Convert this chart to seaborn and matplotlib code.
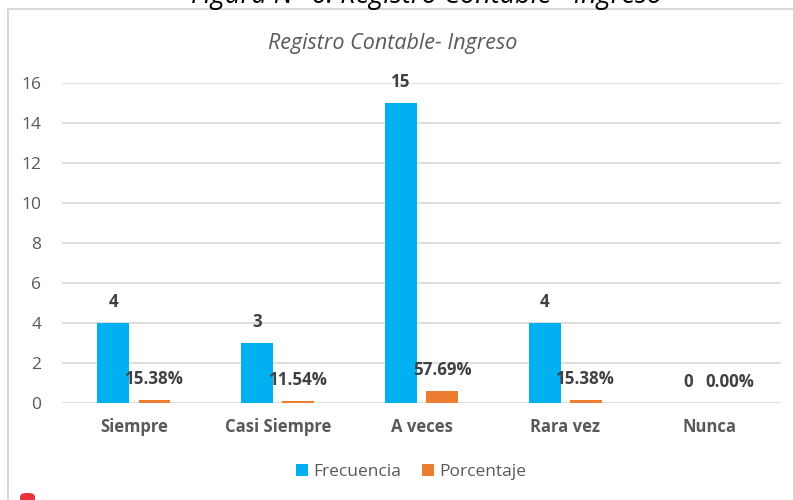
import matplotlib
matplotlib.use("Agg")
import matplotlib.pyplot as plt
from matplotlib.patches import Rectangle, FancyBboxPatch
import seaborn as sns
import pandas as pd

categories = ["Siempre", "Casi Siempre", "A veces", "Rara vez", "Nunca"]
frecuencia = [4, 3, 15, 4, 0]
porcentaje = [0.1538, 0.1154, 0.5769, 0.1538, 0.0]
series_names = ["Frecuencia", "Porcentaje"]
yticks = [0, 2, 4, 6, 8, 10, 12, 14, 16]

df = pd.DataFrame({
    "cat": categories * 2,
    "serie": [series_names[0]] * len(categories) + [series_names[1]] * len(categories),
    "val": frecuencia + porcentaje,
})

plt.rcParams["font.family"] = ["Open Sans", "DejaVu Sans"]
grey = "#595959"
dark = "#404040"
colors = ["#00B0F0", "#ED7D31"]

fig = plt.figure(figsize=(7.93, 5.00), dpi=100)
ax = fig.add_axes([62 / 793, 1 - 403 / 500, (781 - 62) / 793, (403 - 83) / 500])

sns.barplot(data=df, x="cat", y="val", hue="serie", order=categories,
            hue_order=series_names, palette=colors, width=0.572,
            saturation=1, ax=ax, errorbar=None)

bw = 0.222
for cont in ax.containers:
    for p in cont.patches:
        c = p.get_x() + p.get_width() / 2
        p.set_width(bw)
        p.set_x(c - bw / 2)
        p.set_edgecolor("none")

ax.set_ylim(0, 16)
ax.set_xlim(-0.5, len(categories) - 0.5)
ax.set_yticks(yticks)
ax.set_yticklabels([str(t) for t in yticks])
ax.yaxis.grid(True, color="#d9d9d9", lw=1.2)
ax.set_axisbelow(True)
for s in ax.spines.values():
    s.set_visible(False)
ax.tick_params(axis="both", length=0, colors=grey)
ax.tick_params(axis="y", labelsize=12.5, pad=15)
ax.tick_params(axis="x", labelsize=12, pad=11)
for lbl in ax.get_xticklabels():
    lbl.set_fontweight("bold")
ax.set_xlabel("")
ax.set_ylabel("")

# data labels
for i, cont in enumerate(ax.containers):
    vals = frecuencia if i == 0 else porcentaje
    for p, v in zip(cont.patches, vals):
        txt = f"{v:g}" if i == 0 else f"{v:.2%}"
        ax.annotate(txt, (p.get_x() + p.get_width() / 2, p.get_height()),
                    xytext=(0, 11.5), textcoords="offset points",
                    ha="center", va="baseline", fontsize=12.2,
                    fontweight="bold", color=dark)

ax.set_title("")
fig.text(393 / 793, 1 - 43 / 500, "Registro Contable- Ingreso", ha="center",
         va="center", fontsize=15.5, style="italic", color=grey)

sns.move_legend(ax, "center", bbox_to_anchor=(411 / 793, 1 - 472 / 500),
                bbox_transform=fig.transFigure, ncol=2, frameon=False,
                title=None, fontsize=12.5, handlelength=0.7,
                handleheight=0.7, handletextpad=0.3, columnspacing=1.2,
                labelcolor=grey)

# chart border and cut caption
fig.patches.append(Rectangle((8 / 793, -0.1), 1.2, 1 - 9 / 500 + 0.1,
                             transform=fig.transFigure, fill=False,
                             edgecolor="#d9d9d9", lw=1.5))
fig.text(427 / 793, 1 + 4 / 500, "Figura N° 6: Registro Contable - Ingreso",
         ha="center", va="center", fontsize=19.5, style="italic",
         color="black")
fig.patches.append(FancyBboxPatch((20 / 793, -0.02), 15 / 793, 0.034,
                                  boxstyle="round,pad=0,rounding_size=0.008",
                                  transform=fig.transFigure,
                                  facecolor="#e8323c", edgecolor="none"))

fig.savefig("out.png", dpi=100)
